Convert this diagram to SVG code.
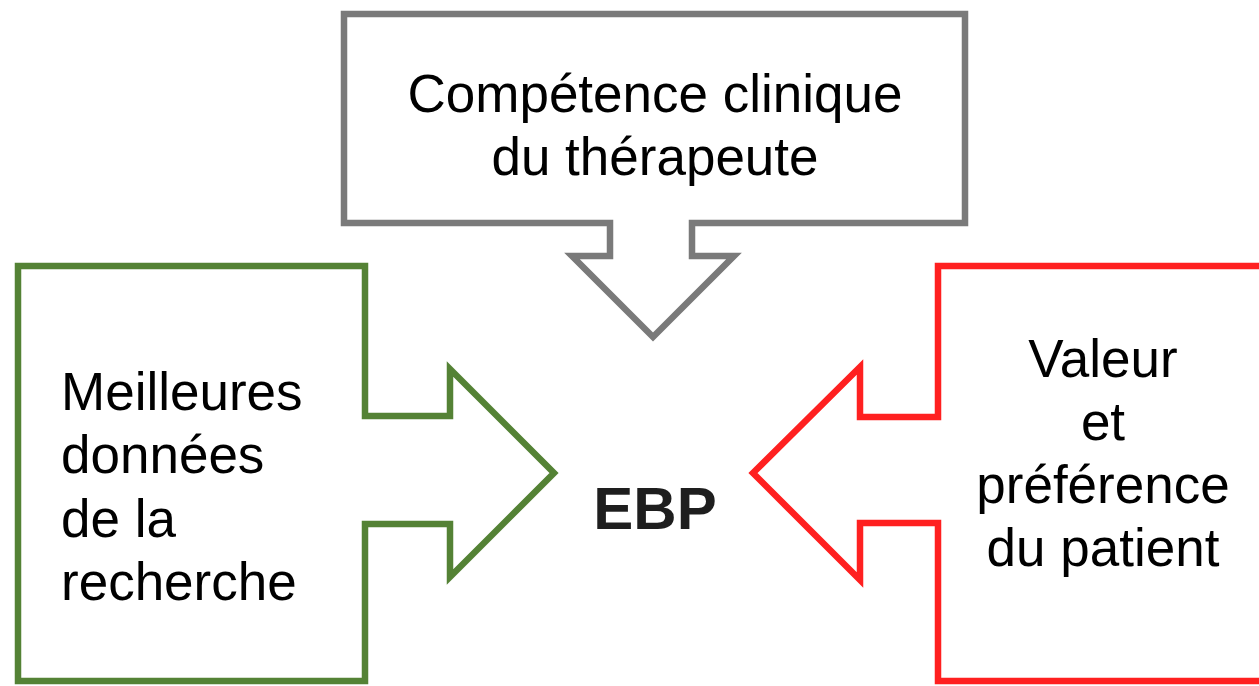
<svg xmlns="http://www.w3.org/2000/svg" width="1259" height="686" viewBox="0 0 1259 686">
<style>
.shape{fill:#fff;stroke-width:6.5;stroke-linejoin:miter}
.t{font-family:"Liberation Sans",Arial,sans-serif;font-size:53px;fill:#000}
.c{text-anchor:middle}
</style>
<rect width="1259" height="686" fill="#fff"/>
<g id="connectors"></g>
<g id="node-competence">
<path class="shape" stroke="#7a7a7a" d="M344,14 H965 V223 H692 V256 H734 L653,337 L572,256 H610 V223 H344 Z"/>
<text class="t c" x="655" y="112">Compétence clinique</text>
<text class="t c" x="655" y="175">du thérapeute</text>
</g>
<g id="node-recherche">
<path class="shape" stroke="#548235" d="M18,266 H365 V416 H450 V369 L554,473 L450,577 V524 H365 V681 H18 Z"/>
<text class="t" x="61" y="410">Meilleures</text>
<text class="t" x="61" y="473">données</text>
<text class="t" x="61" y="537">de la</text>
<text class="t" x="61" y="600">recherche</text>
</g>
<g id="node-patient">
<path class="shape" stroke="#ff2020" d="M1265,266 H938 V417 H860 V367 L753,473 L860,580 V523 H938 V681 H1265"/>
<text class="t c" x="1103" y="377">Valeur</text>
<text class="t c" x="1103" y="440">et</text>
<text class="t c" x="1103" y="503">préférence</text>
<text class="t c" x="1103" y="566">du patient</text>
</g>
<g id="node-ebp">
<text x="655" y="529" font-family="Liberation Sans,Arial,sans-serif" font-size="60" font-weight="bold" fill="#1e1e1e" text-anchor="middle">EBP</text>
</g>
</svg>
